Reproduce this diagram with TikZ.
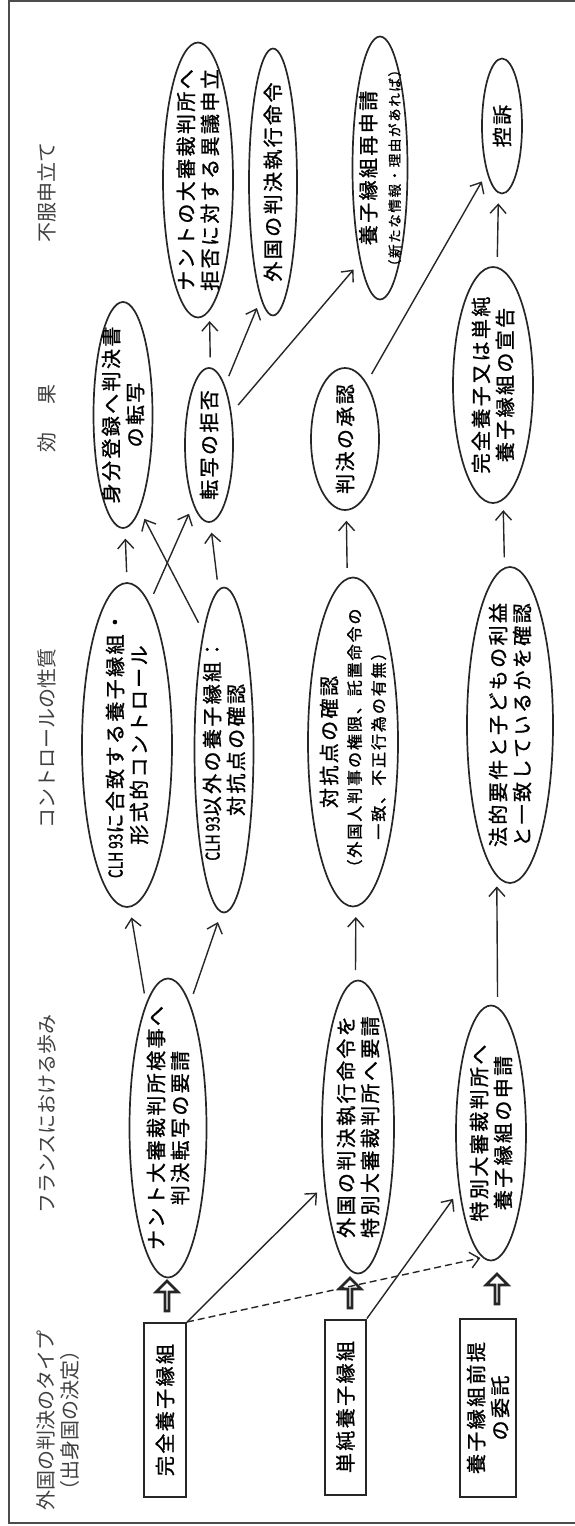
\documentclass[tikz,border=0pt]{standalone}
\usepackage{fontspec}
\newfontfamily\jf{Noto Sans CJK JP}
\newfontfamily\jfs[LetterSpace=12,FakeBold=1.2]{Noto Sans CJK JP}
\newfontfamily\jflat[FakeBold=1.2,FakeStretch=0.72]{Noto Sans CJK JP}
\usetikzlibrary{shapes.geometric,shapes.arrows,arrows.meta}
\newcommand\nodefont{\jfs\fontsize{20pt}{24pt}\selectfont}
\newcommand\smallfnt{\fontsize{16pt}{22pt}\selectfont}
\newcommand\tinyfnt{\fontsize{13.5pt}{16pt}\selectfont}
\newcommand\headfont{\jf\fontsize{20pt}{24pt}\selectfont}
\newcommand\clh{{\jflat\fontsize{19pt}{24pt}\selectfont CLH 93}}
\begin{document}
\begin{tikzpicture}[x=1pt,y=-1pt,
  ell/.style={draw=black!85, line width=1.7pt, ellipse, inner sep=0pt},
  lbl/.style={rotate=90, align=center, inner sep=0pt, font=\nodefont},
  box/.style={draw=black!85, line width=2pt, inner sep=0pt},
  arr/.style={-{Straight Barb[length=9pt,width=16pt,line width=1.4pt]}, line width=1.4pt, draw=black!85, shorten <=10pt, shorten >=10pt},
  hollow/.style={single arrow, draw=black!85, line width=2.6pt, fill=white, rotate=90, inner sep=0pt, minimum height=30pt, minimum width=22pt, single arrow head extend=6pt},
  hdr/.style={rotate=90, align=center, inner sep=0pt, font=\headfont, text=black!75}]
\useasboundingbox (0,0) rectangle (574,1526);
% frame
\draw[line width=1.5pt, black!70] (580,1) -- (9,1) -- (9,1523) -- (580,1523);
% headers
\node[hdr] (h1) at (58,1420) {外国の判決のタイプ\\（出身国の決定）};
\node[hdr] (h2) at (47,1114) {フランスにおける歩み};
\node[hdr] (h3) at (47,738) {コントロールの性質};
\node[hdr] (h4) at (47,418) {効\hspace{28pt}果};
\node[hdr] (h5) at (47,192) {不服申立て};
% boxes
\node[box, minimum width=42pt, minimum height=174pt] (b1) at (165,1410) {};
\node[lbl] (tb1) at (b1) {完全養子縁組};
\node[box, minimum width=41pt, minimum height=175pt] (b2) at (345.4,1407) {};
\node[lbl] (tb2) at (b2) {単純養子縁組};
\node[box, minimum width=56pt, minimum height=178pt] (b3) at (488,1408) {};
\node[lbl] (tb3) at (b3) {養子縁組前提\\の委託};
% hollow arrows
\node[hollow] (a1) at (167,1297) {};
\node[hollow] (a2) at (350,1294) {};
\node[hollow] (a3) at (497,1290) {};
% column 2
\node[ell, minimum width=77pt, minimum height=299pt] (e1) at (168,1128) {};
\node[lbl] (t1) at (e1) {ナント大審裁判所検事へ\\判決転写の要請};
\node[ell, minimum width=72pt, minimum height=293pt] (e2) at (358,1127) {};
\node[lbl] (t2) at (e2) {外国の判決執行命令を\\特別大審裁判所へ要請};
\node[ell, minimum width=70pt, minimum height=255pt] (e3) at (491,1133) {};
\node[lbl] (t3) at (e3) {特別大審裁判所へ\\養子縁組の申請};
% column 3
\node[ell, minimum width=90pt, minimum height=324pt] (e4) at (127,745) {};
\node[lbl] (t4) at (e4) {\clh に合致する養子縁組・\\形式的コントロール};
\node[ell, minimum width=59pt, minimum height=325pt] (e5) at (224,750) {};
\node[lbl] (t5) at (e5) {\clh 以外の養子縁組：\\対抗点の確認};
\node[ell, minimum width=90pt, minimum height=329pt] (e6) at (353,742) {};
\node[lbl] (t6) at (e6) {対抗点の確認\\{\smallfnt（外国人判事の権限、託置命令の}\\{\smallfnt 一致、不正行為の有無）}};
\node[ell, minimum width=86pt, minimum height=316pt] (e7) at (510,725) {};
\node[lbl] (t7) at (e7) {法的要件と子どもの利益\\と一致しているかを確認};
% column 4
\node[ell, minimum width=59pt, minimum height=226pt] (e8) at (123,415) {};
\node[lbl] (t8) at (e8) {身分登録へ判決書\\の転写};
\node[ell, minimum width=48pt, minimum height=154pt] (e9) at (209,445) {};
\node[lbl] (t9) at (e9) {転写の拒否};
\node[ell, minimum width=68pt, minimum height=142pt] (e10) at (345,439) {};
\node[lbl] (t10) at (e10) {判決の承認};
\node[ell, minimum width=80pt, minimum height=236pt] (e11) at (493,385) {};
\node[lbl] (t11) at (e11) {完全養子又は単純\\養子縁組の宣告};
% column 5
\node[ell, minimum width=70pt, minimum height=275pt] (e12) at (198,180) {};
\node[lbl] (t12) at (e12) {ナントの大審裁判所へ\\拒否に対する異議申立};
\node[ell, minimum width=48pt, minimum height=267pt] (e13) at (273,182) {};
\node[lbl] (t13) at (e13) {外国の判決執行命令};
\node[ell, minimum width=55pt, minimum height=263pt] (e14) at (380,168) {};
\node[lbl] (t14) at (e14) {養子縁組再申請\\{\tinyfnt（新たな情報・理由があれば）}};
\node[ell, minimum width=40pt, minimum height=135pt] (e15) at (502,126) {};
\node[lbl] (t15) at (e15) {控訴};
% connectors
\draw[arr, shorten <=0pt] (b1.north east) -- (e2.240);
\draw[arr, shorten <=0pt] (b2.north east) -- (e3.241);
\draw[arr, dash pattern=on 7pt off 4pt, shorten <=0pt, shorten >=2pt] (b1.north east) -- (e3.266);
\draw[arr] (e1.100) -- (e4.271);
\draw[arr] (e1.80) -- (e5.269);
\draw[arr] (e2.91) -- (e6.271);
\draw[arr] (e3.87) -- (e7.265);
\draw[arr] (e4.90) -- (e8.271);
\draw[arr] (e4.81) -- (e9.255);
\draw[arr] (e5.100) -- (e8.280);
\draw[arr] (e5.92) -- (e9.271);
\draw[arr] (e6.92) -- (e10.271);
\draw[arr] (e7.92) -- (e11.275);
\draw[arr] (e9.89) -- (e12.275);
\draw[arr] (e9.75) -- (e13.264);
\draw[arr] (e9.55) -- (e14.258);
\draw[arr] (e10.69) -- (e15.252);
\draw[arr] (e11.88) -- (e15.267);
\end{tikzpicture}
\end{document}
